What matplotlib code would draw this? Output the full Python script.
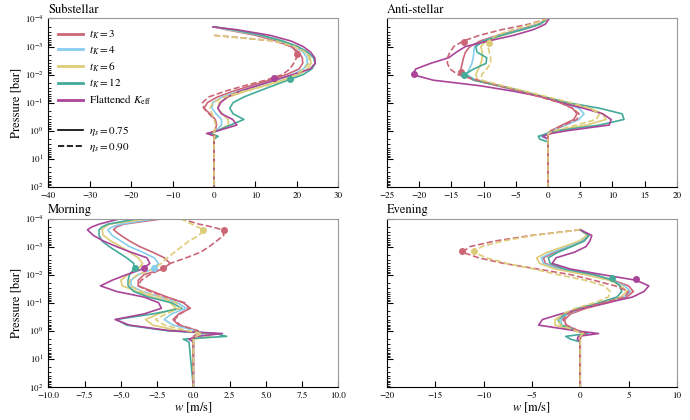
import numpy as np
import matplotlib
matplotlib.use('Agg')
import matplotlib.pyplot as plt
from matplotlib.lines import Line2D

plt.rcParams['font.family'] = ['STIXGeneral', 'DejaVu Serif']
plt.rcParams['mathtext.fontset'] = 'stix'

nan = np.nan

# log10 of pressure in bar, shared by every profile
logp = [-4.0, -3.8, -3.7, -3.6, -3.4, -3.2, -3.0, -2.8, -2.6, -2.4, -2.2, -2.0, -1.8,
        -1.6, -1.4, -1.2, -1.0, -0.8, -0.6, -0.4, -0.2, 0.0, 0.1, 0.2, 0.3, 0.4, 2.0]

# substellar, w in m/s
sub_t3 = [nan, nan, 0.0, 3.0, 10.0, 15.0, 18.5, 20.5, 21.3, 21.4, 20.5, 17.5, 13.3,
          8.8, 4.5, 0.8, -1.6, -2.4, -1.0, 0.3, 0.6, 0.2, -1.2, 0.5, 0.0, 0.0, 0.0]
sub_t4 = [nan, nan, 0.0, 3.5, 11.0, 16.0, 19.5, 21.5, 22.4, 22.5, 21.6, 19.0, 15.0,
          10.5, 6.0, 2.0, -0.3, -0.5, 0.5, 1.8, 1.8, 0.5, -0.8, 0.3, 0.0, 0.0, 0.0]
sub_t6 = [nan, nan, 0.0, 4.0, 11.5, 16.5, 20.0, 22.2, 23.2, 23.4, 22.6, 20.5, 16.5,
          12.0, 7.5, 3.5, 1.2, 0.9, 2.0, 3.4, 3.5, 0.8, -0.5, 0.6, 0.0, 0.0, 0.0]
sub_t12 = [nan, nan, 0.0, 4.5, 11.5, 16.5, 20.2, 22.6, 24.0, 24.4, 23.6, 21.5, 17.8,
           14.2, 10.6, 7.2, 4.6, 3.8, 4.6, 7.2, 4.0, 0.8, -1.0, 1.0, 0.0, 0.0, 0.0]
sub_flat = [nan, nan, -0.3, 5.5, 13.5, 18.5, 21.5, 23.3, 24.3, 24.4, 23.2, 19.0, 14.6,
            10.3, 6.1, 3.2, 1.6, 0.9, 1.8, 4.5, 5.5, 1.0, -1.8, 0.3, 0.0, 0.0, 0.0]
sub_t3_d = [nan, nan, nan, nan, 0.0, 14.5, 18.8, 19.9, 19.9, 19.2, 18.3, 16.5, 12.5,
            7.3, 2.5, -1.3, -2.8, -2.5, -1.2, 0.2, 0.6, 0.2, -0.5, 0.2, 0.0, 0.0, 0.0]
sub_t6_d = [nan, nan, nan, nan, 0.0, 14.5, 19.5, 22.0, 23.0, 22.9, 21.8, 19.8, 16.8,
            12.5, 7.0, 2.5, -0.3, -1.0, -0.5, 0.0, 0.4, 0.2, -0.3, 0.2, 0.0, 0.0, 0.0]
sub_dots = [('t3_d', 19.9, -2.73), ('flat', 14.35, -1.88), ('t12', 18.4, -1.84)]

# anti-stellar
anti_t3 = [0.0, -1.5, -3.0, -4.5, -7.8, -10.5, -12.1, -12.8, -13.1, -13.3, -13.5, -13.3, -11.5,
           -7.8, -4.3, -0.8, 2.0, 3.8, 4.5, 4.0, 2.2, 0.5, 0.0, 0.0, 0.0, 0.0, 0.0]
anti_t4 = [0.0, -1.3, -2.7, -4.2, -7.5, -10.0, -11.4, -11.5, -11.6, -11.8, -12.2, -12.6, -11.2,
           -7.6, -4.1, -0.6, 2.4, 4.8, 5.6, 4.8, 2.8, 0.6, -0.3, -1.2, 0.0, 0.0, 0.0]
anti_t6 = [0.0, -1.2, -2.5, -3.9, -7.0, -9.6, -10.4, -10.2, -10.2, -10.4, -10.8, -11.2, -10.9,
           -7.4, -3.9, -0.4, 3.0, 6.5, 8.5, 9.0, 6.0, 1.2, 0.0, 0.0, 0.0, 0.0, 0.0]
anti_t12 = [0.0, -1.2, -2.5, -4.0, -7.2, -10.0, -11.2, -11.0, -9.5, -9.6, -11.5, -13.0, -11.4,
            -7.5, -4.0, -0.5, 3.0, 8.0, 11.5, 11.8, 8.0, 1.5, 0.0, -1.5, -1.3, 0.0, 0.0]
anti_flat = [0.2, -0.4, -1.3, -2.3, -5.3, -9.2, -12.8, -14.2, -15.4, -18.2, -20.5, -21.0, -17.8,
             -10.5, -5.2, -0.8, 2.0, 5.5, 8.5, 9.8, 9.5, 3.0, 0.5, -0.8, 0.0, 0.0, 0.0]
anti_t3_d = [0.0, -2.9, -5.0, -7.2, -10.6, -13.1, -14.6, -15.2, -15.6, -15.6, -15.2, -14.0, -10.9,
             -7.5, -4.2, -1.2, 1.8, 3.8, 4.8, 4.5, 2.5, 0.5, 0.0, 0.0, 0.0, 0.0, 0.0]
anti_t6_d = [0.0, -2.5, -4.0, -5.5, -8.0, -9.2, -9.3, -9.1, -8.9, -8.9, -9.5, -10.3, -10.3,
             -7.0, -3.4, 0.0, 3.5, 6.5, 8.0, 7.5, 4.5, 1.0, 0.0, 0.0, 0.0, 0.0, 0.0]
anti_dots = [('t3_d', -13.0, -3.17), ('t6_d', -9.1, -3.11), ('flat', -20.8, -2.02),
             ('t3', -13.5, -2.1), ('t12', -13.0, -1.98)]

# morning terminator
morn_t3 = [-2.0, -4.8, -5.3, -5.5, -5.0, -4.4, -3.7, -2.8, -2.0, -1.6, -2.1, -3.4, -3.8,
           -3.8, -2.8, -1.8, -0.7, -0.2, -1.0, -1.4, -1.0, 0.3, 0.5, 0.2, 0.0, 0.0, 0.0]
morn_t4 = [-2.5, -5.0, -5.6, -5.9, -5.6, -5.0, -4.4, -3.5, -2.7, -2.4, -2.8, -3.8, -4.3,
           -4.3, -3.5, -2.3, -1.1, -0.5, -1.5, -2.0, -1.4, 0.2, 0.8, 0.3, 0.0, 0.0, 0.0]
morn_t6 = [-3.0, -5.8, -6.1, -6.3, -6.2, -5.7, -5.0, -4.4, -3.8, -3.5, -3.8, -4.5, -5.0,
           -4.9, -3.9, -2.8, -1.6, -1.2, -2.4, -3.3, -2.8, -1.0, 0.8, 1.2, 0.0, 0.0, 0.0]
morn_t12 = [-3.8, -5.9, -6.3, -6.5, -6.5, -6.3, -5.8, -5.2, -4.6, -4.1, -4.1, -4.4, -4.5,
            -4.5, -4.1, -3.1, -1.5, -0.8, -2.8, -5.3, -4.6, -1.8, 1.5, 2.3, -0.7, -0.3, 0.0]
morn_flat = [-5.0, -6.5, -7.0, -7.3, -6.9, -6.2, -5.3, -4.3, -3.2, -3.0, -3.5, -4.6, -5.6,
             -6.4, -5.3, -3.4, -2.4, -2.2, -3.4, -5.4, -4.4, -1.6, 2.0, 0.3, -0.3, 0.0, 0.0]
morn_t3_d = [-0.9, 0.4, 1.3, 2.0, 2.1, 1.6, 1.1, 0.5, -0.5, -1.6, -2.2, -3.0, -3.6,
             -3.8, -3.0, -1.9, -0.6, -0.3, -0.9, -1.3, -0.9, 0.3, 0.3, 0.0, 0.0, 0.0, 0.0]
morn_t6_d = [-0.9, -0.1, 0.3, 0.7, 0.4, -0.3, -0.8, -1.3, -1.8, -2.2, -2.8, -3.8, -4.4,
             -4.4, -3.6, -2.3, -1.2, -0.9, -1.9, -2.6, -2.0, -0.4, 0.6, 0.2, 0.0, 0.0, 0.0]
morn_dots = [('t3_d', 2.1, -3.58), ('t6_d', 0.7, -3.58), ('t12', -4.0, -2.24),
             ('flat', -3.4, -2.23), ('t4', -2.7, -2.22), ('t3', -2.1, -2.22)]

# evening terminator
eve_t3 = [nan, nan, nan, 0.0, 0.9, 0.4, -1.0, -2.6, -3.8, -3.6, -2.0, 1.0, 3.4,
          5.0, 5.5, 4.8, 2.9, 0.6, -1.0, -1.6, -1.5, -0.2, 0.4, 0.0, 0.0, 0.0, 0.0]
eve_t4 = [nan, nan, nan, 0.0, 0.8, 0.2, -1.3, -2.9, -4.0, -3.8, -2.2, 0.8, 3.2,
          4.6, 5.2, 4.5, 2.6, 0.3, -1.3, -2.0, -1.9, -0.3, 0.4, 0.0, 0.0, 0.0, 0.0]
eve_t6 = [nan, nan, nan, 0.0, 0.7, -0.1, -1.7, -3.4, -4.5, -4.2, -2.6, 0.5, 3.0,
          4.3, 4.8, 4.2, 2.3, 0.0, -1.6, -2.6, -2.6, -0.6, 0.5, 0.0, 0.0, 0.0, 0.0]
eve_t12 = [nan, nan, nan, 0.0, 0.9, 0.4, -0.9, -2.3, -3.3, -3.1, -1.6, 1.5, 3.4,
           4.1, 4.3, 3.8, 2.0, -0.2, -1.5, -2.3, -2.0, -0.3, 0.8, -1.5, -1.0, 0.0, 0.0]
eve_flat = [nan, nan, nan, 0.0, 1.2, 1.0, 0.6, -0.6, -2.5, -2.9, -1.0, 2.3, 5.8,
            7.1, 6.6, 5.4, 2.8, 0.3, -2.0, -3.9, -4.3, -0.5, 1.9, -0.2, -0.3, 0.0, 0.0]
eve_t3_d = [nan, nan, nan, 0.0, -5.0, -8.8, -11.4, -12.2, -10.5, -7.9, -4.4, -1.0, 1.4,
            3.6, 5.0, 4.6, 2.4, 0.2, -1.3, -1.8, -1.4, -0.2, 0.5, 0.1, 0.0, 0.0, 0.0]
eve_t6_d = [nan, nan, nan, 0.0, -4.8, -8.0, -10.2, -11.0, -9.7, -7.6, -4.8, -2.3, 0.5,
            2.5, 3.1, 2.9, 1.5, -0.5, -1.8, -2.4, -2.0, -0.5, 0.3, 0.0, 0.0, 0.0, 0.0]
eve_dots = [('t3_d', -12.2, -2.85), ('t6_d', -11.0, -2.85), ('flat', 5.8, -1.86),
            ('t12', 3.3, -1.88)]

models = ['t3', 't4', 't6', 't12', 'flat']
labels = [r'$t_K = 3$', r'$t_K = 4$', r'$t_K = 6$', r'$t_K = 12$', r'Flattened $K_{\rm eff}$']
colors = {'t3': '#CC6677', 't4': '#88CCEE', 't6': '#DDCC77', 't12': '#44AA99', 'flat': '#AA4499'}

panels = [
    ('Substellar', [sub_t3, sub_t4, sub_t6, sub_t12, sub_flat], sub_t3_d, sub_t6_d, sub_dots,
     (-40, 30), np.arange(-40, 31, 10), '%d'),
    ('Anti-stellar', [anti_t3, anti_t4, anti_t6, anti_t12, anti_flat], anti_t3_d, anti_t6_d, anti_dots,
     (-25, 20), np.arange(-25, 21, 5), '%d'),
    ('Morning', [morn_t3, morn_t4, morn_t6, morn_t12, morn_flat], morn_t3_d, morn_t6_d, morn_dots,
     (-10, 10), np.arange(-10, 10.1, 2.5), '%.1f'),
    ('Evening', [eve_t3, eve_t4, eve_t6, eve_t12, eve_flat], eve_t3_d, eve_t6_d, eve_dots,
     (-20, 10), np.arange(-20, 11, 5), '%d'),
]

p = 10.0 ** np.array(logp)

fig, axes = plt.subplots(2, 2, figsize=(6.9, 4.2), dpi=100)
fig.subplots_adjust(left=0.070, right=0.981, top=0.956, bottom=0.079, wspace=0.167, hspace=0.189)

for k, (ax, (name, solids, dash3, dash6, dots, xlim, xticks, fmt)) in enumerate(zip(axes.flat, panels)):
    for m, w in zip(models, solids):
        ax.plot(w, p, color=colors[m], lw=1.2)
    ax.plot(dash3, p, color=colors['t3'], lw=1.2, ls='--')
    ax.plot(dash6, p, color=colors['t6'], lw=1.2, ls='--')
    for key, wd, lpd in dots:
        ax.plot(wd, 10.0 ** lpd, 'o', color=colors[key.replace('_d', '')], ms=4, zorder=5)

    ax.set_yscale('log')
    ax.set_ylim(1e2, 1e-4)
    ax.set_xlim(*xlim)
    ax.set_xticks(xticks)
    ax.set_xticklabels([(fmt % t).replace('-', '\u2212') for t in xticks])
    ax.tick_params(which='both', direction='in', top=False, right=False, labelsize=6.5)
    ax.tick_params(which='major', length=4, width=0.8)
    ax.tick_params(which='minor', length=2, width=0.6)
    ax.spines['top'].set_color('#999999')
    ax.spines['right'].set_color('#999999')
    ax.set_title(name, loc='left', fontsize=9, pad=4)
    if k % 2 == 0:
        ax.set_ylabel('Pressure [bar]', fontsize=9, labelpad=2)
    else:
        ax.set_yticklabels([], minor=False)
        ax.tick_params(which='both', labelleft=False)
    if k >= 2:
        ax.set_xlabel(r'$w$ [m/s]', fontsize=9, labelpad=1)

ax0 = axes[0, 0]
h1 = [Line2D([], [], color=colors[m], lw=2.0) for m in models]
leg1 = ax0.legend(h1, labels, loc='upper left', fontsize=8, frameon=False,
                  handlelength=2.2, labelspacing=0.3, handletextpad=0.6)
ax0.add_artist(leg1)
h2 = [Line2D([], [], color='k', lw=1.2), Line2D([], [], color='k', lw=1.2, ls='--')]
ax0.legend(h2, [r'$\eta_s = 0.75$', r'$\eta_s = 0.90$'], loc='center left',
           bbox_to_anchor=(0.0, 0.284), fontsize=8, frameon=False,
           handlelength=2.2, labelspacing=0.3, handletextpad=0.6)

fig.savefig('out.png', dpi=100)
